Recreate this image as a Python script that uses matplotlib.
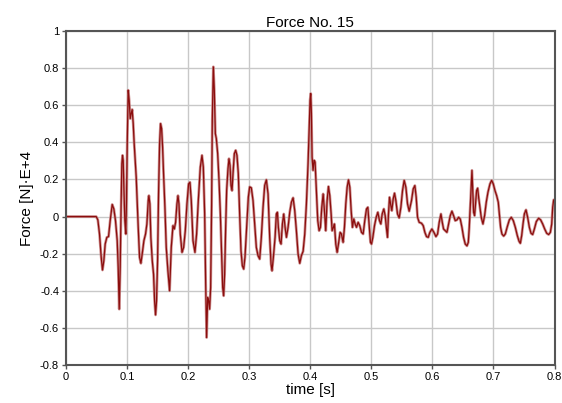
import matplotlib
matplotlib.use("Agg")
import matplotlib.pyplot as plt

plt.rcParams['font.family'] = ['Liberation Sans', 'DejaVu Sans']

# Sampled force history: time in s, force in N·1e4
time_s = [
    0.000, 0.0495, 0.0522, 0.0549, 0.0577, 0.0598, 0.062, 0.0642, 0.0669, 0.0697,
    0.0724, 0.0757, 0.0784, 0.0811, 0.0839, 0.0855, 0.0872, 0.0888, 0.0904, 0.0915,
    0.0926, 0.0937, 0.0948, 0.0964, 0.098, 0.0991, 0.1003, 0.1019, 0.1035, 0.1052,
    0.1068, 0.1084, 0.1101, 0.1117, 0.115, 0.1183, 0.1205, 0.1227, 0.1248, 0.1276,
    0.1303, 0.1325, 0.1347, 0.1358, 0.1374, 0.139, 0.1413, 0.1434, 0.1451, 0.1467,
    0.1483, 0.150, 0.1516, 0.1533, 0.1549, 0.1566, 0.1582, 0.1598, 0.162, 0.1642,
    0.1669, 0.1697, 0.1724, 0.1752, 0.1774, 0.1795, 0.1817, 0.1834, 0.185, 0.1872,
    0.190, 0.1927, 0.1954, 0.1981, 0.2008, 0.203, 0.2052, 0.208, 0.2112, 0.2139,
    0.2167, 0.220, 0.2227, 0.2249, 0.2271, 0.2287, 0.2303, 0.232, 0.2336, 0.2352,
    0.2369, 0.2385, 0.2396, 0.2413, 0.2429, 0.2446, 0.2462, 0.2484, 0.2506, 0.2528,
    0.255, 0.2566, 0.2582, 0.2598, 0.2615, 0.2631, 0.2653, 0.2669, 0.2686, 0.2702,
    0.2719, 0.2735, 0.2757, 0.2779, 0.280, 0.2822, 0.2844, 0.2866, 0.2888, 0.291,
    0.2931, 0.2959, 0.2986, 0.3008, 0.3035, 0.3063, 0.309, 0.3117, 0.3145, 0.3172,
    0.3199, 0.3227, 0.3254, 0.3281, 0.3309, 0.3336, 0.3358, 0.3374, 0.3396, 0.3424,
    0.3445, 0.3462, 0.3478, 0.350, 0.3522, 0.3544, 0.3566, 0.3588, 0.361, 0.3637,
    0.3664, 0.3691, 0.3719, 0.3746, 0.3773, 0.3801, 0.3828, 0.3855, 0.3883, 0.391,
    0.3937, 0.3964, 0.3981, 0.3997, 0.4008, 0.4019, 0.403, 0.4046, 0.4063, 0.4079,
    0.4101, 0.4123, 0.4145, 0.4167, 0.4189, 0.4211, 0.4232, 0.4254, 0.4276, 0.4298,
    0.432, 0.4342, 0.4358, 0.438, 0.4396, 0.4418, 0.444, 0.4462, 0.4489, 0.4511,
    0.4538, 0.456, 0.4582, 0.4604, 0.4626, 0.4648, 0.467, 0.4691, 0.4713, 0.4735,
    0.4757, 0.4784, 0.4811, 0.4839, 0.4866, 0.4893, 0.4921, 0.4943, 0.4964, 0.4986,
    0.5003, 0.5025, 0.5052, 0.508, 0.5107, 0.5134, 0.5156, 0.5178, 0.5205, 0.5227,
    0.5249, 0.5265, 0.5281, 0.5298, 0.532, 0.5336, 0.5358, 0.538, 0.5402, 0.5429,
    0.5456, 0.5484, 0.5511, 0.5538, 0.5566, 0.5593, 0.562, 0.5658, 0.5686, 0.5713,
    0.5735, 0.5757, 0.5784, 0.5822, 0.585, 0.5877, 0.5904, 0.5932, 0.5959, 0.5992,
    0.6025, 0.6058, 0.6085, 0.6112, 0.614, 0.6162, 0.6183, 0.6211, 0.6238, 0.6265,
    0.6293, 0.632, 0.6347, 0.6374, 0.6402, 0.6429, 0.6456, 0.6484, 0.6511, 0.6538,
    0.6566, 0.6588, 0.6604, 0.662, 0.6637, 0.6648, 0.6659, 0.6675, 0.6691, 0.6708,
    0.6724, 0.6741, 0.6757, 0.6779, 0.680, 0.6828, 0.6855, 0.6882, 0.691, 0.6943,
    0.697, 0.6997, 0.7025, 0.7052, 0.7079, 0.7096, 0.7117, 0.7139, 0.7167, 0.7194,
    0.7227, 0.726, 0.7292, 0.7325, 0.7358, 0.7391, 0.7419, 0.744, 0.7462, 0.7484,
    0.7506, 0.7533, 0.756, 0.7588, 0.7615, 0.7642, 0.767, 0.7702, 0.774, 0.7773,
    0.7806, 0.7839, 0.7872, 0.7904, 0.7932, 0.7954, 0.797, 0.7986, 0.800,
]
force = [
    0.000, 0.000, -0.018, -0.094, -0.220, -0.288, -0.238, -0.148, -0.112, -0.108,
    -0.022, 0.065, 0.041, -0.022, -0.130, -0.274, -0.499, -0.274, 0.086, 0.285,
    0.330, 0.303, 0.159, -0.022, -0.094, 0.086, 0.392, 0.681, 0.627, 0.528,
    0.555, 0.577, 0.501, 0.393, 0.213, -0.058, -0.220, -0.252, -0.202, -0.130,
    -0.094, -0.040, 0.086, 0.113, 0.068, -0.112, -0.238, -0.310, -0.454, -0.530,
    -0.454, -0.238, 0.123, 0.393, 0.501, 0.474, 0.375, 0.231, 0.051, -0.166,
    -0.292, -0.400, -0.166, -0.049, -0.067, -0.031, 0.068, 0.113, 0.068, -0.094,
    -0.193, -0.166, -0.076, 0.068, 0.176, 0.185, 0.086, -0.130, -0.193, -0.094,
    0.086, 0.267, 0.330, 0.267, 0.014, -0.347, -0.652, -0.436, -0.454, -0.499,
    -0.382, 0.065, 0.519, 0.807, 0.681, 0.447, 0.420, 0.339, 0.195, 0.014,
    -0.220, -0.382, -0.427, -0.310, -0.058, 0.140, 0.258, 0.312, 0.276, 0.168,
    0.140, 0.231, 0.339, 0.357, 0.330, 0.231, 0.014, -0.184, -0.265, -0.283,
    -0.220, -0.058, 0.104, 0.160, 0.155, 0.086, -0.040, -0.166, -0.211, -0.229,
    -0.112, 0.050, 0.168, 0.198, 0.122, -0.112, -0.256, -0.292, -0.220, -0.112,
    0.014, 0.023, -0.058, -0.130, -0.148, -0.040, 0.014, -0.058, -0.112, -0.058,
    0.023, 0.077, 0.101, 0.032, -0.076, -0.202, -0.252, -0.211, -0.187, -0.094,
    0.068, 0.284, 0.465, 0.627, 0.663, 0.555, 0.321, 0.249, 0.303, 0.294,
    0.141, -0.022, -0.076, -0.058, 0.050, 0.122, 0.032, -0.076, 0.086, 0.162,
    0.113, 0.014, -0.076, -0.058, -0.040, -0.148, -0.193, -0.148, -0.085, -0.094,
    -0.139, -0.058, 0.068, 0.158, 0.198, 0.158, 0.032, -0.058, -0.013, -0.040,
    -0.058, -0.031, -0.049, -0.085, -0.094, -0.022, 0.041, 0.050, -0.040, -0.139,
    -0.148, -0.112, -0.049, -0.004, 0.023, -0.022, -0.040, 0.014, 0.041, 0.005,
    -0.067, -0.112, 0.014, 0.104, 0.059, 0.032, 0.095, 0.126, 0.086, 0.014,
    -0.007, 0.050, 0.140, 0.195, 0.158, 0.068, 0.029, 0.086, 0.149, 0.167,
    0.104, -0.004, -0.031, -0.036, -0.049, -0.085, -0.108, -0.112, -0.085, -0.067,
    -0.085, -0.108, -0.094, -0.031, 0.014, -0.031, -0.067, -0.076, -0.085, -0.040,
    0.005, 0.029, 0.005, -0.022, -0.018, -0.004, -0.013, -0.058, -0.112, -0.148,
    -0.158, -0.139, -0.058, 0.050, 0.176, 0.249, 0.158, 0.023, 0.005, 0.077,
    0.140, 0.153, 0.104, 0.050, -0.004, -0.040, 0.005, 0.077, 0.131, 0.176,
    0.195, 0.176, 0.140, 0.113, 0.077, 0.014, -0.058, -0.094, -0.105, -0.094,
    -0.054, -0.018, -0.004, -0.022, -0.058, -0.103, -0.133, -0.144, -0.103, -0.040,
    0.014, 0.036, -0.004, -0.058, -0.090, -0.097, -0.067, -0.027, -0.009, -0.018,
    -0.040, -0.067, -0.090, -0.097, -0.085, -0.040, 0.050, 0.090, 0.090,
]

x_ticks = [0, 0.1, 0.2, 0.3, 0.4, 0.5, 0.6, 0.7, 0.8]
x_labels = ['0', '0.1', '0.2', '0.3', '0.4', '0.5', '0.6', '0.7', '0.8']
y_ticks = [-0.8, -0.6, -0.4, -0.2, 0, 0.2, 0.4, 0.6, 0.8, 1]
y_labels = ['-0.8', '-0.6', '-0.4', '-0.2', '0', '0.2', '0.4', '0.6', '0.8', '1']

fig = plt.figure(figsize=(5.62, 4.03), dpi=100)
ax = fig.add_axes([0.1174, 0.0943, 0.8693, 0.8287])

# soft outer stroke plus dark core for the force trace
ax.plot(time_s, force, color='#c27878', lw=2.0, solid_joinstyle='round', alpha=0.8)
ax.plot(time_s, force, color='#8b0d0d', lw=0.9, solid_joinstyle='round')

ax.set_xlim(0, 0.8)
ax.set_ylim(-0.8, 1)
ax.set_xticks(x_ticks)
ax.set_xticklabels(x_labels)
ax.set_yticks(y_ticks)
ax.set_yticklabels(y_labels)
ax.tick_params(labelsize=8, length=3, width=1, color='#555555', pad=2)
ax.grid(True, color='#c8c8c8', lw=1)
ax.set_axisbelow(True)
for s in ax.spines.values():
    s.set_color('#555555')
    s.set_linewidth(1.5)

ax.set_title('Force No. 15', fontsize=11, pad=3)
ax.set_xlabel('time [s]', fontsize=11, labelpad=1)
ax.set_ylabel('Force [N]·E+4', fontsize=11, labelpad=4)

fig.savefig('out.png', dpi=100)
